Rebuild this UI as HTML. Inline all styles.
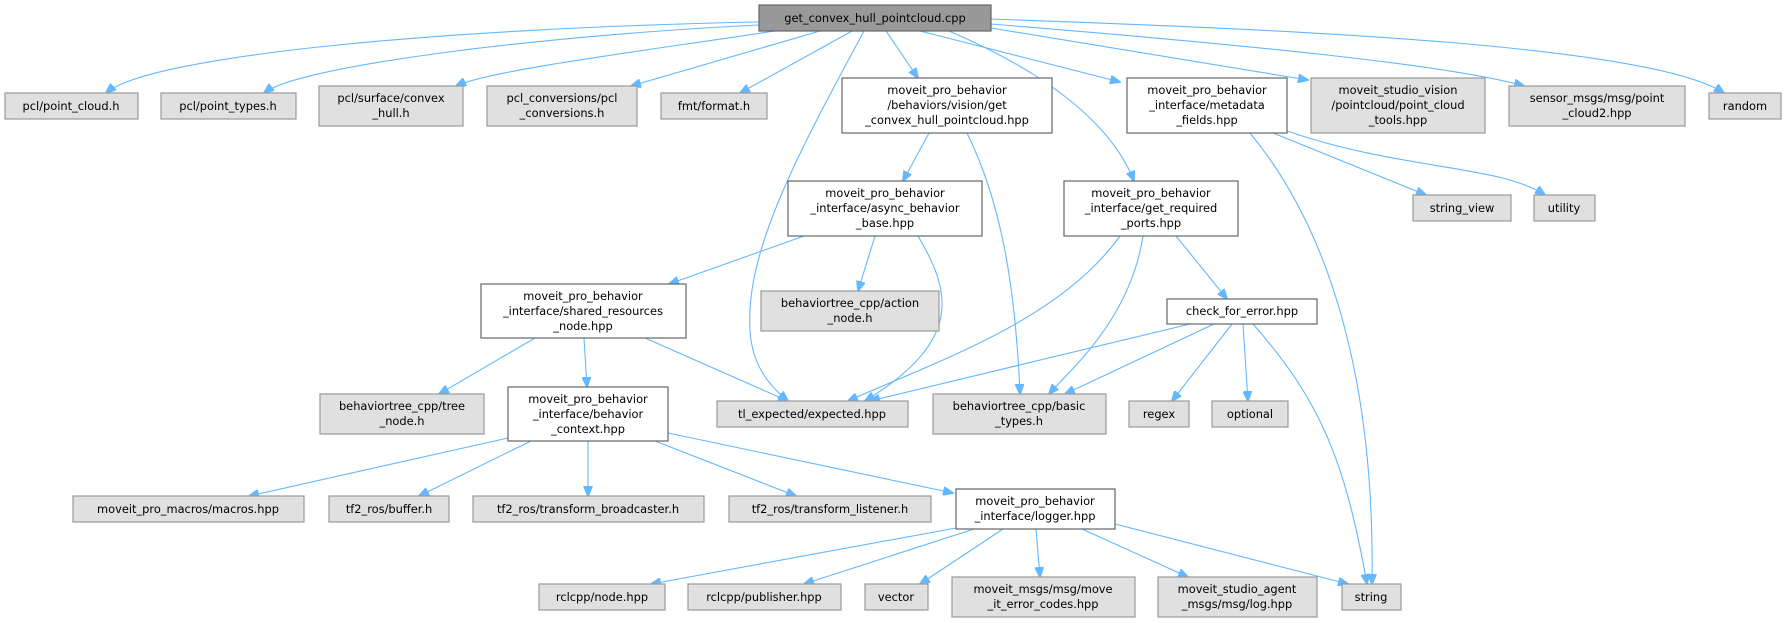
<!DOCTYPE html>
<html><head><meta charset="utf-8"><style>
html,body{margin:0;padding:0;background:#fff;}
svg{display:block;}
text{font-family:"DejaVu Sans","Liberation Sans",sans-serif;font-size:11.4px;fill:#000;}
.g{fill:#e0e0e0;stroke:#999;stroke-width:1.2;}
.w{fill:#fff;stroke:#666;stroke-width:1.2;}
.t{fill:#999;stroke:#666;stroke-width:1.2;}
path{fill:none;stroke:#63b8ff;stroke-width:1.1;}
</style></head><body>
<svg width="1786" height="623" viewBox="0 0 1786 623" xmlns="http://www.w3.org/2000/svg">
<defs><marker id="a" markerWidth="11" markerHeight="9" refX="10" refY="4.5" orient="auto" markerUnits="userSpaceOnUse"><polygon points="0,0 11,4.5 0,9" fill="#63b8ff" stroke="#63b8ff"/></marker></defs>
<g marker-end="url(#a)">
<path d="M759,22 C450,28 150,55 106,93"/>
<path d="M759,25 C550,35 300,65 264,93"/>
<path d="M775,31 C650,50 490,70 456,86"/>
<path d="M820,31 L631,86"/>
<path d="M852,31 L740,93"/>
<path d="M864,31 C800,150 745,250 750,330 C752,370 775,390 788,401"/>
<path d="M886,31 L918,78"/>
<path d="M920,31 L1120,82"/>
<path d="M949,31 C1040,70 1110,120 1134,181"/>
<path d="M991,28 L1308,80"/>
<path d="M991,24 C1250,45 1450,65 1524,86"/>
<path d="M991,19 C1300,30 1650,45 1724,93"/>
<path d="M929,133 L903,181"/>
<path d="M967,133 C1000,200 1015,280 1020,394"/>
<path d="M1273,133 L1426,195"/>
<path d="M1287,131 C1400,170 1500,165 1545,195"/>
<path d="M1250,133 C1330,230 1375,380 1372,584"/>
<path d="M804,236 L669,284"/>
<path d="M875,236 L858,291"/>
<path d="M918,236 C950,290 965,340 865,401"/>
<path d="M1120,236 C1060,320 940,360 848,401"/>
<path d="M1143,236 C1130,320 1070,370 1049,394"/>
<path d="M1176,236 L1227,299"/>
<path d="M535,338 L439,394"/>
<path d="M584,338 L587,387"/>
<path d="M645,338 L788,401"/>
<path d="M1190,324 L870,401"/>
<path d="M1214,324 L1065,394"/>
<path d="M1232,324 L1172,401"/>
<path d="M1243,324 L1248,401"/>
<path d="M1253,324 C1320,400 1345,460 1367,584"/>
<path d="M508,438 L249,496"/>
<path d="M531,441 L419,496"/>
<path d="M588,441 L588,496"/>
<path d="M655,441 L796,496"/>
<path d="M668,433 L953,493"/>
<path d="M956,528 L651,584"/>
<path d="M974,529 L804,584"/>
<path d="M1003,529 L920,584"/>
<path d="M1036,529 L1040,577"/>
<path d="M1082,529 L1188,577"/>
<path d="M1115,524 L1348,584"/>
</g>
<g text-anchor="middle">
<rect class="t" x="759" y="5" width="232" height="26"/><text x="875" y="22">get_convex_hull_pointcloud.cpp</text>
<rect class="g" x="5" y="93" width="133" height="26"/><text x="71" y="110">pcl/point_cloud.h</text>
<rect class="g" x="161" y="93" width="135" height="26"/><text x="228" y="110">pcl/point_types.h</text>
<rect class="g" x="319" y="86" width="144" height="40"/><text x="391" y="102">pcl/surface/convex</text><text x="391" y="117">_hull.h</text>
<rect class="g" x="487" y="86" width="150" height="40"/><text x="562" y="102">pcl_conversions/pcl</text><text x="562" y="117">_conversions.h</text>
<rect class="g" x="661" y="93" width="106" height="26"/><text x="714" y="110">fmt/format.h</text>
<rect class="w" x="842" y="78" width="210" height="55"/><text x="947" y="94">moveit_pro_behavior</text><text x="947" y="109">/behaviors/vision/get</text><text x="947" y="124">_convex_hull_pointcloud.hpp</text>
<rect class="w" x="1127" y="78" width="160" height="55"/><text x="1207" y="94">moveit_pro_behavior</text><text x="1207" y="109">_interface/metadata</text><text x="1207" y="124">_fields.hpp</text>
<rect class="g" x="1311" y="78" width="174" height="55"/><text x="1398" y="94">moveit_studio_vision</text><text x="1398" y="109">/pointcloud/point_cloud</text><text x="1398" y="124">_tools.hpp</text>
<rect class="g" x="1509" y="86" width="176" height="40"/><text x="1597" y="102">sensor_msgs/msg/point</text><text x="1597" y="117">_cloud2.hpp</text>
<rect class="g" x="1709" y="93" width="72" height="26"/><text x="1745" y="110">random</text>
<rect class="w" x="788" y="181" width="194" height="55"/><text x="885" y="197">moveit_pro_behavior</text><text x="885" y="212">_interface/async_behavior</text><text x="885" y="227">_base.hpp</text>
<rect class="w" x="1064" y="181" width="174" height="55"/><text x="1151" y="197">moveit_pro_behavior</text><text x="1151" y="212">_interface/get_required</text><text x="1151" y="227">_ports.hpp</text>
<rect class="g" x="1413" y="195" width="98" height="26"/><text x="1462" y="212">string_view</text>
<rect class="g" x="1534" y="195" width="61" height="26"/><text x="1564" y="212">utility</text>
<rect class="w" x="481" y="284" width="205" height="54"/><text x="583" y="300">moveit_pro_behavior</text><text x="583" y="315">_interface/shared_resources</text><text x="583" y="330">_node.hpp</text>
<rect class="g" x="761" y="291" width="178" height="40"/><text x="850" y="307">behaviortree_cpp/action</text><text x="850" y="322">_node.h</text>
<rect class="w" x="1167" y="299" width="150" height="25"/><text x="1242" y="315">check_for_error.hpp</text>
<rect class="g" x="320" y="394" width="164" height="40"/><text x="402" y="410">behaviortree_cpp/tree</text><text x="402" y="425">_node.h</text>
<rect class="w" x="508" y="387" width="160" height="54"/><text x="588" y="403">moveit_pro_behavior</text><text x="588" y="418">_interface/behavior</text><text x="588" y="433">_context.hpp</text>
<rect class="g" x="717" y="401" width="191" height="26"/><text x="812" y="418">tl_expected/expected.hpp</text>
<rect class="g" x="933" y="394" width="173" height="40"/><text x="1019" y="410">behaviortree_cpp/basic</text><text x="1019" y="425">_types.h</text>
<rect class="g" x="1129" y="401" width="60" height="26"/><text x="1159" y="418">regex</text>
<rect class="g" x="1212" y="401" width="76" height="26"/><text x="1250" y="418">optional</text>
<rect class="g" x="73" y="496" width="231" height="26"/><text x="188" y="513">moveit_pro_macros/macros.hpp</text>
<rect class="g" x="329" y="496" width="120" height="26"/><text x="389" y="513">tf2_ros/buffer.h</text>
<rect class="g" x="473" y="496" width="231" height="26"/><text x="588" y="513">tf2_ros/transform_broadcaster.h</text>
<rect class="g" x="729" y="496" width="202" height="26"/><text x="830" y="513">tf2_ros/transform_listener.h</text>
<rect class="w" x="956" y="489" width="159" height="40"/><text x="1035" y="505">moveit_pro_behavior</text><text x="1035" y="520">_interface/logger.hpp</text>
<rect class="g" x="539" y="584" width="126" height="26"/><text x="602" y="601">rclcpp/node.hpp</text>
<rect class="g" x="688" y="584" width="153" height="26"/><text x="764" y="601">rclcpp/publisher.hpp</text>
<rect class="g" x="865" y="584" width="63" height="26"/><text x="896" y="601">vector</text>
<rect class="g" x="952" y="577" width="183" height="40"/><text x="1043" y="593">moveit_msgs/msg/move</text><text x="1043" y="608">_it_error_codes.hpp</text>
<rect class="g" x="1158" y="577" width="159" height="40"/><text x="1237" y="593">moveit_studio_agent</text><text x="1237" y="608">_msgs/msg/log.hpp</text>
<rect class="g" x="1342" y="584" width="59" height="26"/><text x="1371" y="601">string</text>
</g>
</svg>
</body></html>
